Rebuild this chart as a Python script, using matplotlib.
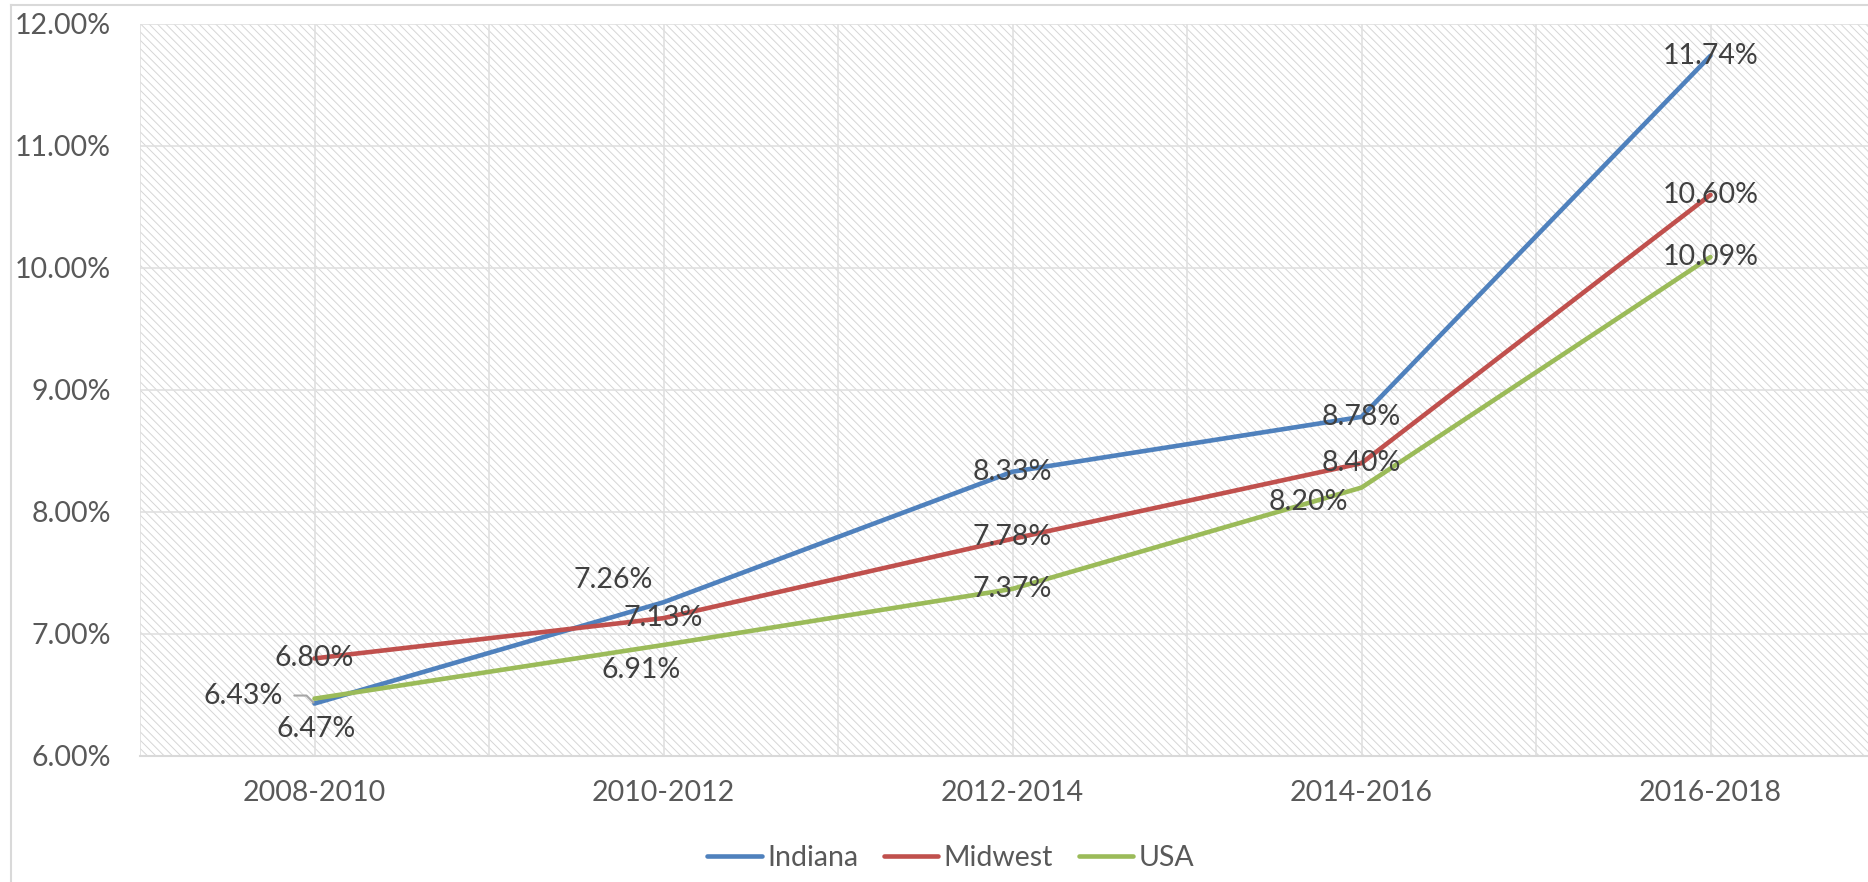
import matplotlib

matplotlib.use("Agg")
import matplotlib.pyplot as plt
from matplotlib.lines import Line2D
from matplotlib.patches import Rectangle


periodos = ["2008-2010", "2010-2012", "2012-2014", "2014-2016", "2016-2018"]
indiana = [6.43, 7.26, 8.33, 8.78, 11.74]
midwest = [6.80, 7.13, 7.78, 8.40, 10.60]
usa = [6.47, 6.91, 7.37, 8.20, 10.09]
y_ticks = [6, 7, 8, 9, 10, 11, 12]

# desplazamiento de cada etiqueta en pixeles (x, y hacia arriba)
offsets = {
    "Indiana": [(-71, 8), (-50, 22), (0, 0), (0, 0), (0, 0)],
    "Midwest": [(0, 0), (0, 0), (0, 2), (0, 0), (0, 0)],
    "USA": [(2, -30), (-22, -25), (0, 0), (-53, -14), (0, 0)],
}

series = [
    ("Indiana", indiana, "#4F81BD"),
    ("Midwest", midwest, "#C0504D"),
    ("USA", usa, "#9BBB59"),
]

plt.rcParams["font.family"] = ["Lato", "DejaVu Sans"]
plt.rcParams["hatch.linewidth"] = 0.7

fig = plt.figure(figsize=(18.68, 8.82), dpi=100)
ax = fig.add_axes([140 / 1868, 1 - 756 / 882, 1745 / 1868, 732 / 882])

ax.add_patch(Rectangle((0, 0), 1, 1, transform=ax.transAxes, facecolor="white",
                       edgecolor="#D6D6D6", linewidth=0, hatch="\\\\\\\\", zorder=0))

x = list(range(len(periodos)))
for nombre, valores, color in series:
    ax.plot(x, valores, color=color, lw=3.3, solid_joinstyle="round",
            solid_capstyle="round", label=nombre, zorder=3)

for nombre, valores, color in series:
    for i, v in enumerate(valores):
        dx, dy = offsets[nombre][i]
        kw = {}
        if nombre == "Indiana" and i == 0:
            kw["arrowprops"] = dict(arrowstyle="-", color="#A6A6A6", lw=1.5,
                                    shrinkA=6, shrinkB=1, relpos=(1, 0.5),
                                    connectionstyle="angle,angleA=0,angleB=135,rad=0")
        ax.annotate(f"{v:.2f}%", (i, v), xytext=(dx, dy), textcoords="offset pixels",
                    ha="center", va="center", fontsize=20.5, color="#404040",
                    zorder=5, **kw)

ax.set_xlim(-0.5, 4.5)
ax.set_ylim(6, 12)
ax.set_xticks(x)
ax.set_xticklabels(periodos)
ax.set_xticks([i - 0.5 for i in range(len(periodos) + 1)], minor=True)
ax.set_yticks(y_ticks)
ax.set_yticklabels([f"{t:.2f}%" for t in y_ticks])
ax.tick_params(axis="both", which="both", length=0, labelsize=20.5, labelcolor="#595959")
ax.tick_params(axis="y", pad=21)
ax.tick_params(axis="x", pad=17)
ax.grid(axis="y", color="#E0E0E0", lw=1.2, zorder=1)
ax.grid(axis="x", which="both", color="#E0E0E0", lw=1.2, zorder=1)
ax.set_axisbelow(True)
for lado in ["top", "right", "left"]:
    ax.spines[lado].set_visible(False)
ax.spines["bottom"].set_color("#D9D9D9")
ax.spines["bottom"].set_linewidth(1.5)

fig.add_artist(Line2D([11 / 1868, 11 / 1868], [0, 1 - 5 / 882],
                      transform=fig.transFigure, color="#D9D9D9", lw=1.5))
fig.add_artist(Line2D([11 / 1868, 1], [1 - 5 / 882, 1 - 5 / 882],
                      transform=fig.transFigure, color="#D9D9D9", lw=1.5))

fig.legend(loc="center", bbox_to_anchor=(0.509, 0.027), ncol=3, frameon=False,
           fontsize=20.5, handlelength=1.9, handletextpad=0.2, columnspacing=0.9,
           labelcolor="#595959")

fig.savefig("out.png", dpi=100)
